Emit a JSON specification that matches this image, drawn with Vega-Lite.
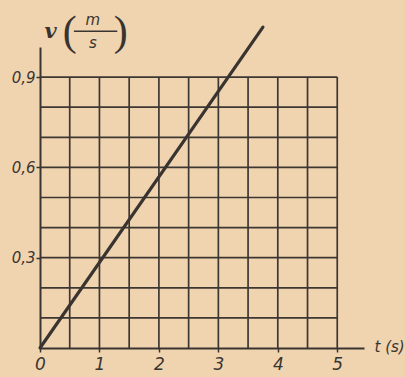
{
  "$schema": "https://vega.github.io/schema/vega-lite/v6.json",
  "width": 324,
  "height": 301,
  "autosize": {"type": "none"},
  "padding": {"left": 40, "top": 47, "right": 41, "bottom": 29},
  "background": "#F0D4B0",
  "config": {
    "view": {"stroke": null},
    "font": "DejaVu Sans"
  },
  "datasets": {
    "speed": [
      {"t": 0, "v": 0},
      {"t": 3.75, "v": 1.066}
    ],
    "vgrid": [
      {"t": 0.5}, {"t": 1}, {"t": 1.5}, {"t": 2}, {"t": 2.5},
      {"t": 3}, {"t": 3.5}, {"t": 4}, {"t": 4.5}, {"t": 5}
    ],
    "hgrid": [
      {"v": 0.1}, {"v": 0.2}, {"v": 0.3}, {"v": 0.4}, {"v": 0.5},
      {"v": 0.6}, {"v": 0.7}, {"v": 0.8}, {"v": 0.9}
    ],
    "one": [{}]
  },
  "layer": [
    {
      "data": {"name": "vgrid"},
      "mark": {"type": "rule", "stroke": "#3d3732", "strokeWidth": 1.7},
      "encoding": {
        "x": {"field": "t", "type": "quantitative", "scale": {"domain": [0, 5.45], "nice": false, "zero": false},
          "axis": {
            "values": [0, 1, 2, 3, 4, 5],
            "format": "d",
            "labelFlush": false,
            "grid": false,
            "domainColor": "#3a3430",
            "domainWidth": 2,
            "tickColor": "#3a3430",
            "tickWidth": 1.5,
            "tickSize": 4,
            "labelFont": "DejaVu Sans",
            "labelFontStyle": "italic",
            "labelFontSize": 17,
            "labelColor": "#3a3430",
            "labelPadding": 4,
            "title": "t (s)",
            "titleFont": "DejaVu Sans",
            "titleFontStyle": "italic",
            "titleFontWeight": "normal",
            "titleFontSize": 15,
            "titleColor": "#3a3430",
            "titleAlign": "left",
            "titleBaseline": "middle",
            "titleX": 334,
            "titleY": -2
          }
        },
        "y": {"datum": 0, "type": "quantitative"},
        "y2": {"datum": 0.9}
      }
    },
    {
      "data": {"name": "hgrid"},
      "mark": {"type": "rule", "stroke": "#3d3732", "strokeWidth": 1.7},
      "encoding": {
        "y": {"field": "v", "type": "quantitative", "scale": {"domain": [0, 1.0], "nice": false},
          "axis": {
            "values": [0.3, 0.6, 0.9],
            "labelFlush": false,
            "grid": false,
            "labelExpr": "replace(format(datum.value, '.1f'), '.', ',')",
            "domainColor": "#3a3430",
            "domainWidth": 2,
            "tickColor": "#3a3430",
            "tickWidth": 1.5,
            "tickSize": 4,
            "labelFont": "DejaVu Sans",
            "labelFontStyle": "italic",
            "labelFontSize": 15,
            "labelColor": "#3a3430",
            "labelPadding": 1,
            "title": null
          }
        },
        "x": {"datum": 0, "type": "quantitative"},
        "x2": {"datum": 5}
      }
    },
    {
      "data": {"name": "speed"},
      "mark": {"type": "line", "stroke": "#3a3430", "strokeWidth": 3.2, "strokeCap": "round"},
      "encoding": {
        "x": {"field": "t", "type": "quantitative"},
        "y": {"field": "v", "type": "quantitative"}
      }
    },
    {
      "data": {"name": "one"},
      "mark": {"type": "text", "text": "v", "font": "DejaVu Serif", "fontWeight": "bold", "fontStyle": "italic", "fontSize": 21, "color": "#3a3430", "baseline": "middle", "align": "center"},
      "encoding": {
        "x": {"datum": 0.18, "type": "quantitative"},
        "y": {"datum": 1.05, "type": "quantitative"}
      }
    },
    {
      "data": {"name": "one"},
      "mark": {"type": "text", "text": "(", "font": "Liberation Serif", "fontWeight": "normal", "fontSize": 42, "color": "#3a3430", "baseline": "middle", "align": "center"},
      "encoding": {
        "x": {"datum": 0.5, "type": "quantitative"},
        "y": {"datum": 1.05, "type": "quantitative"}
      }
    },
    {
      "data": {"name": "one"},
      "mark": {"type": "text", "text": ")", "font": "Liberation Serif", "fontWeight": "normal", "fontSize": 42, "color": "#3a3430", "baseline": "middle", "align": "center"},
      "encoding": {
        "x": {"datum": 1.36, "type": "quantitative"},
        "y": {"datum": 1.05, "type": "quantitative"}
      }
    },
    {
      "data": {"name": "one"},
      "mark": {"type": "text", "text": "m", "font": "DejaVu Sans", "fontStyle": "italic", "fontSize": 15, "color": "#3a3430", "baseline": "middle", "align": "center"},
      "encoding": {
        "x": {"datum": 0.89, "type": "quantitative"},
        "y": {"datum": 1.09, "type": "quantitative"}
      }
    },
    {
      "data": {"name": "one"},
      "mark": {"type": "text", "text": "s", "font": "DejaVu Sans", "fontStyle": "italic", "fontSize": 15, "color": "#3a3430", "baseline": "middle", "align": "center"},
      "encoding": {
        "x": {"datum": 0.89, "type": "quantitative"},
        "y": {"datum": 1.013, "type": "quantitative"}
      }
    },
    {
      "data": {"name": "one"},
      "mark": {"type": "rule", "stroke": "#3a3430", "strokeWidth": 1.5},
      "encoding": {
        "x": {"datum": 0.57, "type": "quantitative"},
        "x2": {"datum": 1.3},
        "y": {"datum": 1.052, "type": "quantitative"}
      }
    }
  ]
}
